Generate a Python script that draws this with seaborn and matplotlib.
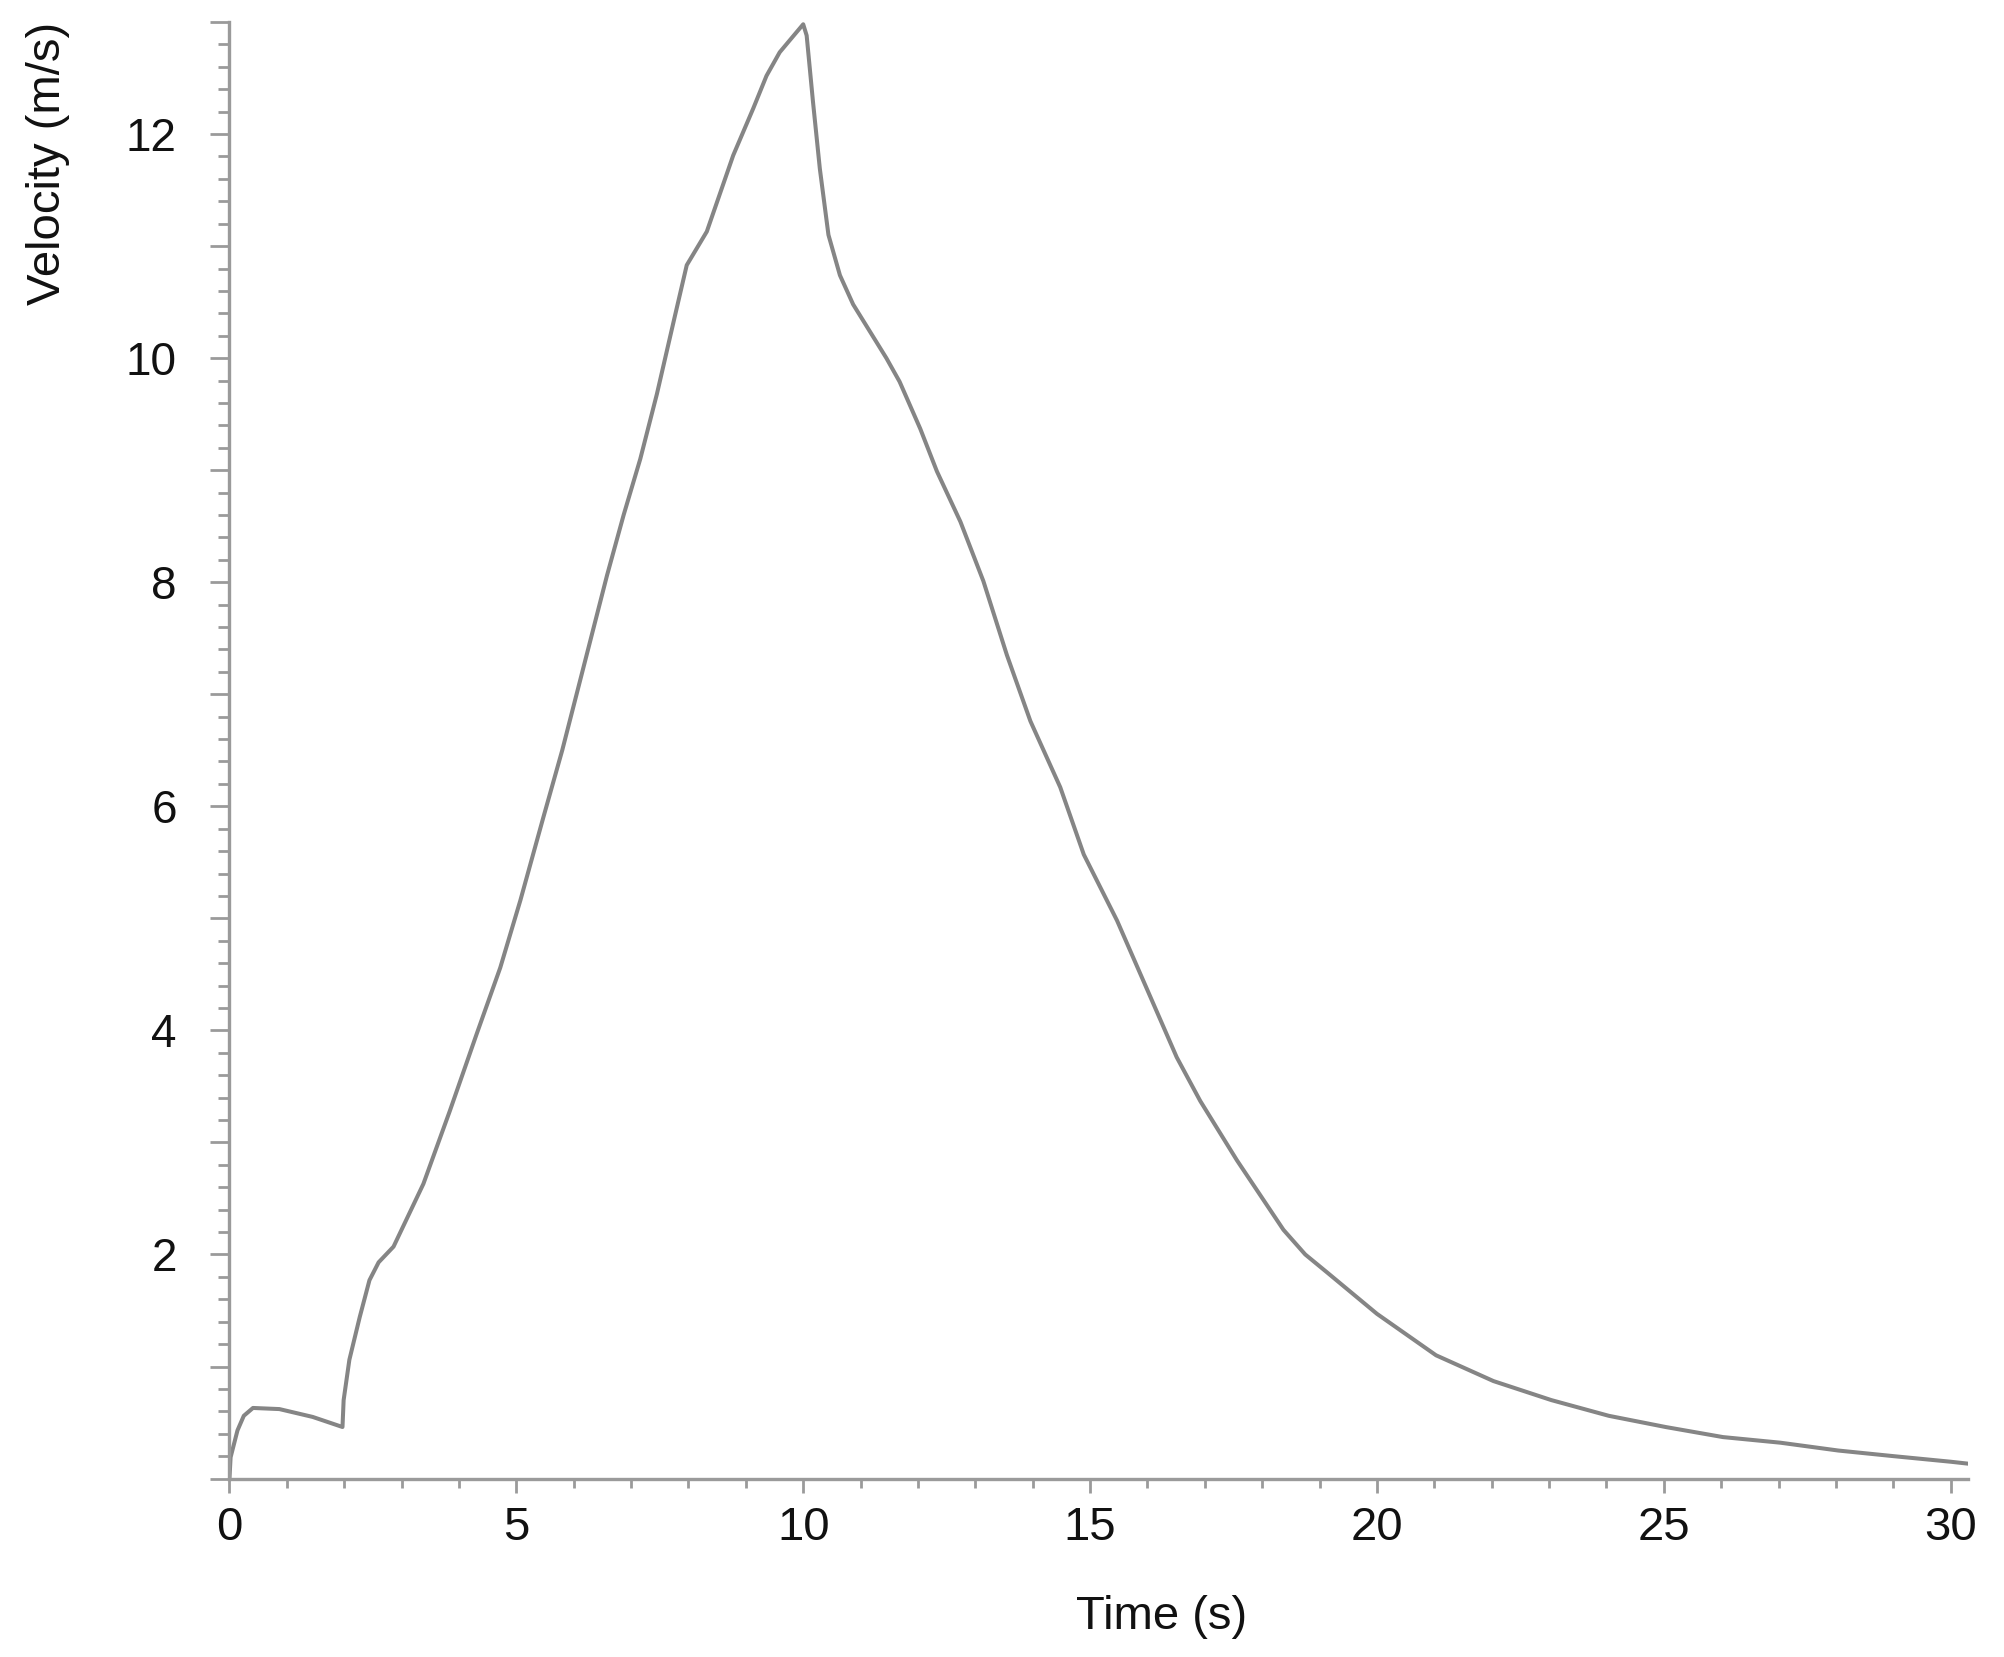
# Velocity vs time trace (single grey curve, tick-heavy axes)

import pandas as pd
import matplotlib
matplotlib.use("Agg")
import matplotlib.pyplot as plt
import seaborn as sns
from matplotlib.ticker import MultipleLocator, FuncFormatter

# ---------- data ----------
time_s = [0.0, 0.02, 0.14, 0.25, 0.41, 0.87, 1.45, 1.97, 1.99, 2.09, 2.27, 2.44, 2.6, 2.86,
          3.38, 3.84, 4.31, 4.72, 5.07, 5.47, 5.80, 6.29, 6.58, 6.87, 7.16, 7.45,
          7.77, 7.97, 8.32, 8.78, 9.13, 9.36, 9.59, 9.77, 10.0, 10.06, 10.17, 10.29,
          10.44, 10.64, 10.87, 11.45, 11.68, 12.04, 12.33, 12.74, 13.14, 13.55, 13.96,
          14.48, 14.89, 15.47, 16.05, 16.51, 16.92, 17.56, 18.37, 18.75, 19.13, 20.0, 21.03,
          22.03, 23.04, 24.04, 25.03, 26.03, 27.03, 28.04, 29.0, 30.0, 30.35]
velocity = [0.0, 0.19, 0.43, 0.56, 0.63, 0.62, 0.55, 0.46, 0.70, 1.06, 1.44, 1.77, 1.93, 2.07,
            2.63, 3.28, 3.97, 4.56, 5.16, 5.90, 6.50, 7.48, 8.06, 8.60, 9.10, 9.68,
            10.39, 10.83, 11.13, 11.81, 12.23, 12.52, 12.73, 12.84, 12.98, 12.88, 12.29, 11.69,
            11.10, 10.74, 10.48, 10.0, 9.79, 9.37, 8.99, 8.54, 8.01, 7.35, 6.76,
            6.17, 5.57, 4.98, 4.30, 3.76, 3.37, 2.84, 2.22, 2.0, 1.84, 1.47, 1.10,
            0.87, 0.70, 0.56, 0.46, 0.37, 0.32, 0.25, 0.20, 0.15, 0.13]

x_ticks = [0, 5, 10, 15, 20, 25, 30]
y_tick_labels = [2, 4, 6, 8, 10, 12]

df = pd.DataFrame({"Time (s)": time_s, "Velocity (m/s)": velocity})

# ---------- style ----------
sns.set_theme(style="ticks")
plt.rcParams["font.family"] = ["Liberation Sans", "DejaVu Sans"]

axis_grey = "#9a9a9a"
line_grey = "#858585"

fig = plt.figure(figsize=(20.04, 16.57), dpi=100)
ax = fig.add_axes([0.1145, 0.1077, 0.8675, 0.879])

sns.lineplot(data=df, x="Time (s)", y="Velocity (m/s)", estimator=None,
             color=line_grey, linewidth=2.9, ax=ax)

ax.set_xlim(0, 30.3)
ax.set_ylim(0, 13)

# x: labelled every 5, small ticks every 1
ax.xaxis.set_minor_locator(MultipleLocator(1))
ax.set_xticks(x_ticks)
ax.set_xticklabels([str(v) for v in x_ticks])

# y: ticks every 1 (labels on the even ones), small ticks every 0.2
ax.yaxis.set_major_locator(MultipleLocator(1))
ax.yaxis.set_minor_locator(MultipleLocator(0.2))
ax.yaxis.set_major_formatter(FuncFormatter(
    lambda v, p: f"{v:.0f}" if round(v) in y_tick_labels else ""))

for s in ["top", "right"]:
    ax.spines[s].set_visible(False)
for s in ["left", "bottom"]:
    ax.spines[s].set_color(axis_grey)
    ax.spines[s].set_linewidth(2.4)

ax.tick_params(axis="x", which="major", length=10, width=2, color=axis_grey,
               labelsize=34, labelcolor="#111111", pad=10)
ax.tick_params(axis="x", which="minor", length=6.5, width=2, color=axis_grey)
ax.tick_params(axis="y", which="major", length=14, width=2, color=axis_grey,
               labelsize=33, labelcolor="#111111", pad=24)
ax.tick_params(axis="y", which="minor", length=8, width=2, color=axis_grey)

ax.set_xlabel("Time (s)", fontsize=34, color="#111111")
ax.xaxis.set_label_coords(0.536, -0.080)
ax.set_ylabel("Velocity (m/s)", fontsize=34, color="#111111", loc="top")
ax.yaxis.set_label_coords(-0.092, 1.0)

fig.savefig("out.png", dpi=100, facecolor="white")
